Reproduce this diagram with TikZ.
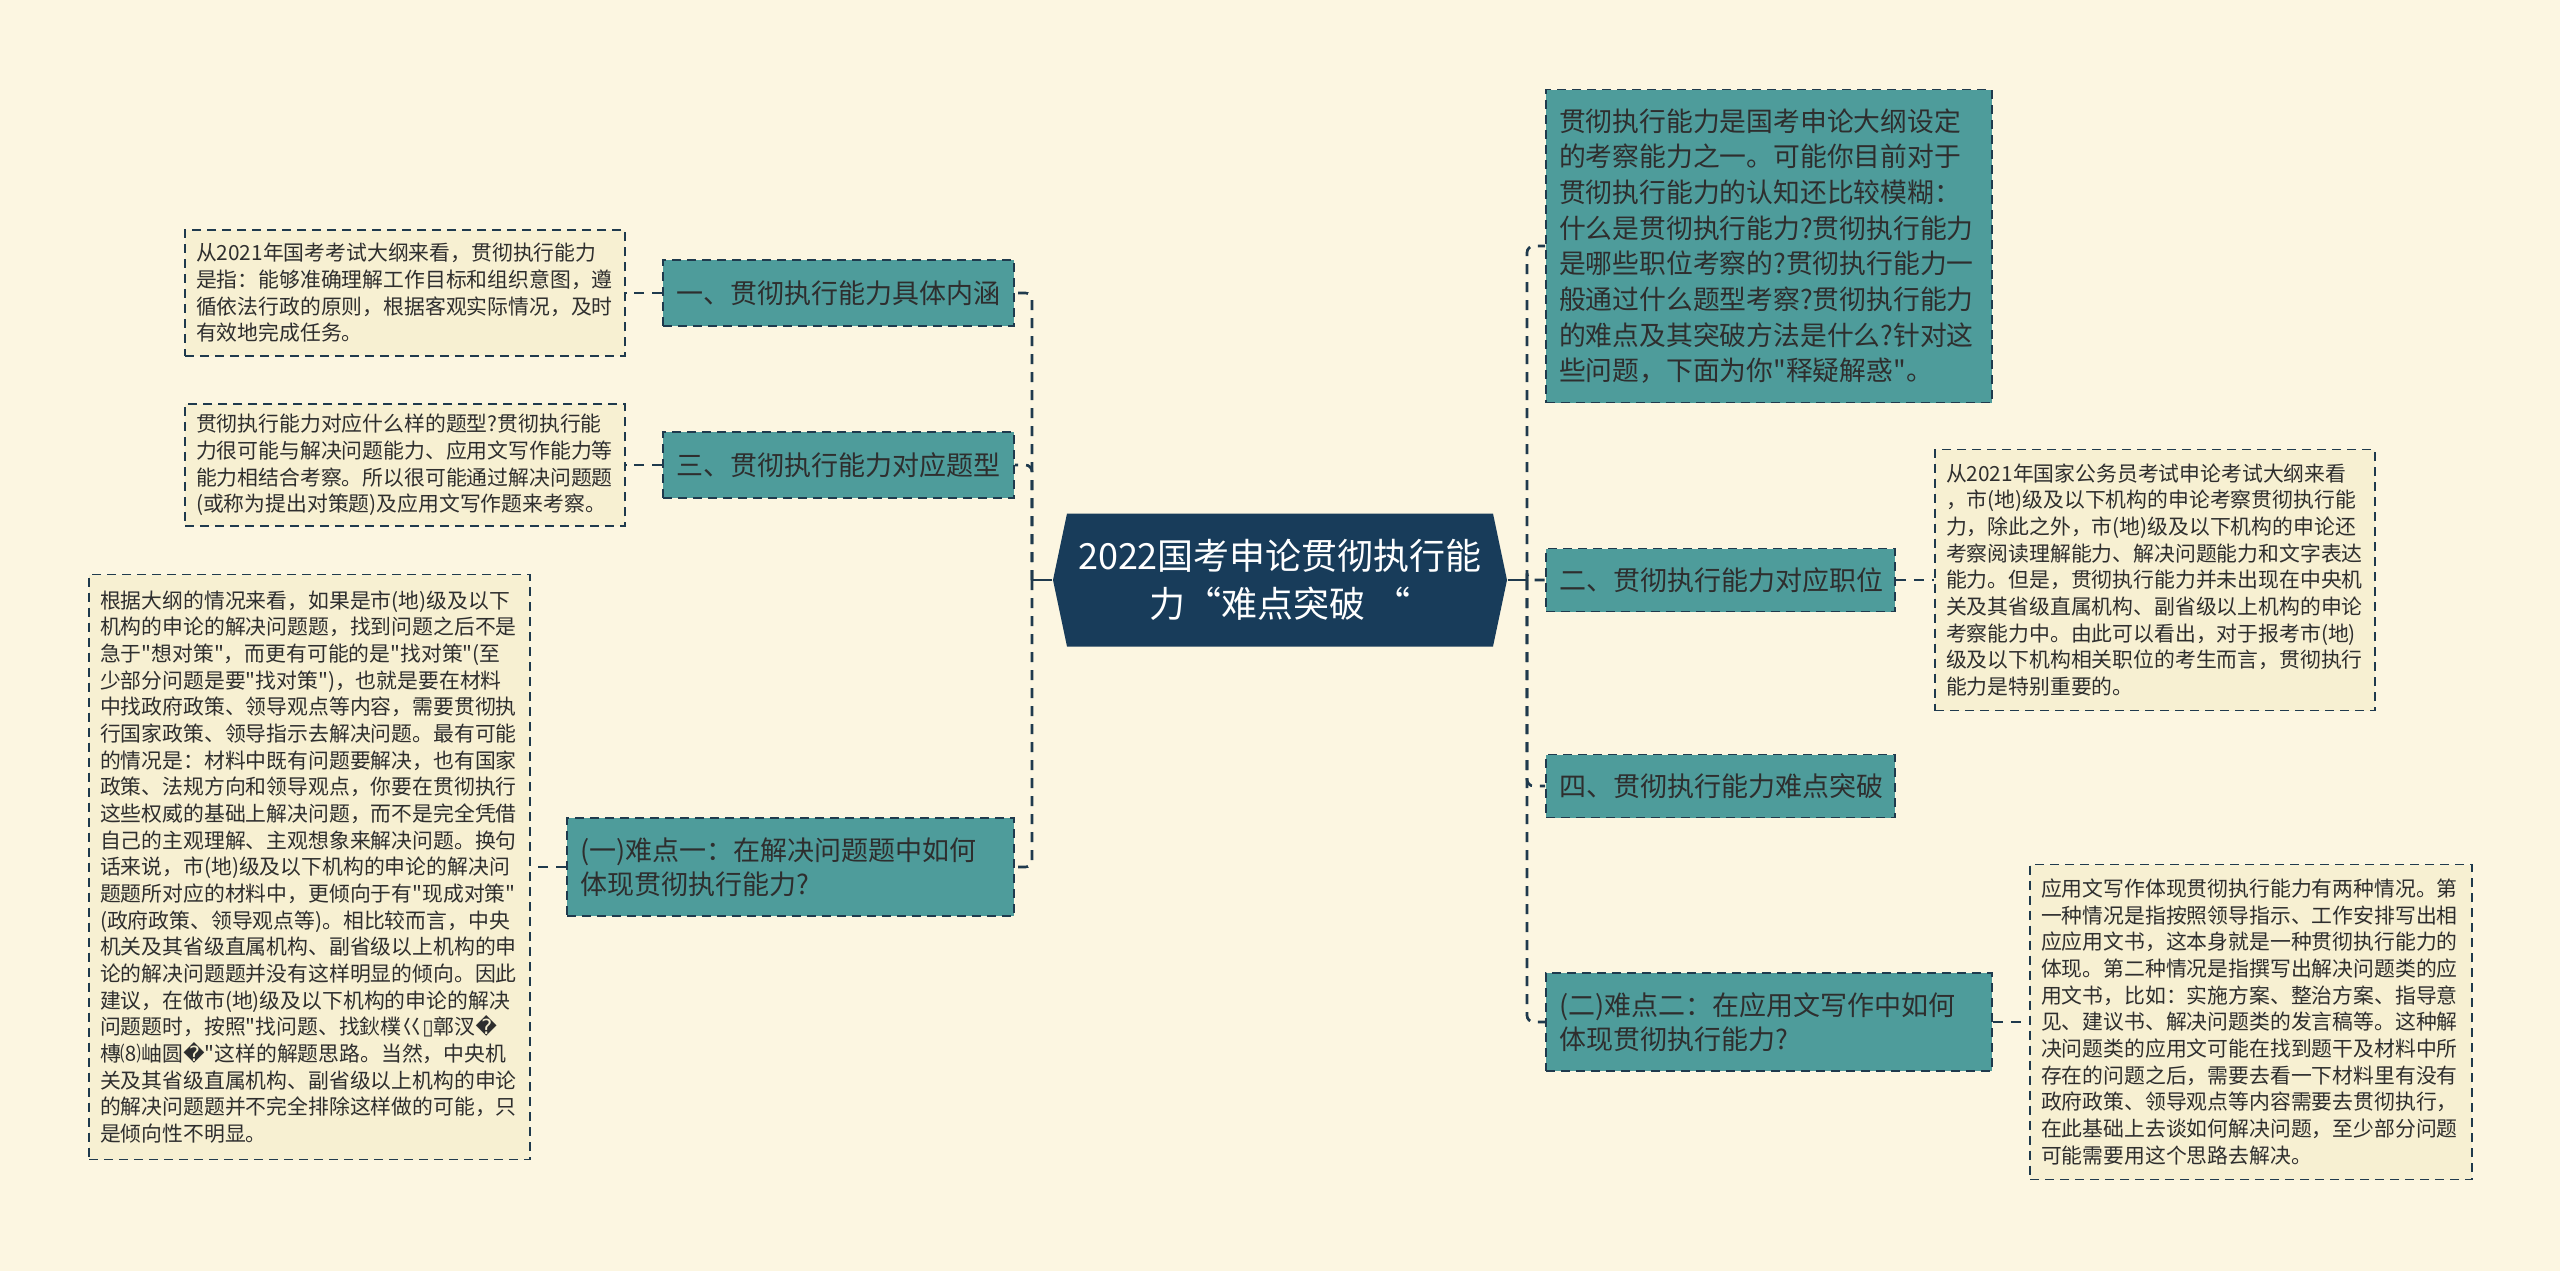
\documentclass[tikz,border=0pt]{standalone}
\usepackage{fontspec}
\setmainfont{Noto Sans CJK SC}[Ligatures=TeXOff]
\newfontfamily\symfont{DejaVu Sans}
\definecolor{bgcol}{HTML}{FCF6E1}
\definecolor{leafcol}{HTML}{F7F0D2}
\definecolor{tealcol}{HTML}{4E9C9B}
\definecolor{rootcol}{HTML}{183C5A}
\definecolor{linecol}{HTML}{1F3A4D}
\definecolor{inkcol}{HTML}{2E2E2E}
\tikzset{
	box/.style={draw=linecol, line width=0.5pt, dash pattern=on 2.7pt off 1.8pt, align=left},
	topic/.style={box, fill=tealcol, text=inkcol, font=\fontsize{8.1}{10.3}\selectfont, inner xsep=3.9pt, inner ysep=3pt},
	leaf/.style={box, fill=leafcol, text=inkcol, font=\fontsize{6.25}{8}\selectfont, inner xsep=3.3pt, inner ysep=3pt},
	link/.style={draw=linecol, line width=0.8pt, dash pattern=on 3pt off 2.4pt, rounded corners=2pt},
	stub/.style={draw=linecol, line width=0.8pt},
	root/.style={fill=bgcol, minimum width=136.2pt, minimum height=39.9pt, inner sep=0pt, text=white, align=center,
		font=\fontsize{10.8}{14.2}\selectfont,
		path picture={\fill[rootcol] (path picture bounding box.west)
			-- ([xshift=4.2pt]path picture bounding box.north west) -- ([xshift=-4.2pt]path picture bounding box.north east)
			-- (path picture bounding box.east)
			-- ([xshift=-4.2pt]path picture bounding box.south east) -- ([xshift=4.2pt]path picture bounding box.south west) -- cycle;}},
}
\begin{document}
\begin{tikzpicture}[x=0.3pt, y=-0.3pt]
	\fill[bgcol] (0,0) rectangle (2560,1271);
	\useasboundingbox (0,0) rectangle (2560,1271);
	\node[root] (root) at (1280,580) {2022国考申论贯彻执行能\\力“难点突破 “};
	% left side
	\node[topic, text width=97.5pt, minimum height=19.8pt] (ta) at (838.5,293) {一、贯彻执行能力具体内涵};
	\node[topic, text width=97.5pt, minimum height=19.8pt] (tb) at (838.5,465) {三、贯彻执行能力对应题型};
	\node[topic, text width=126.3pt, minimum height=29.4pt] (tc) at (790.5,867) {(一)难点一：在解决问题题中如何\\体现贯彻执行能力?};
	\node[leaf, text width=125.4pt, minimum height=37.8pt] (la) at (405,293) {从2021年国考考试大纲来看，贯彻执行能力\\是指：能够准确理解工作目标和组织意图，遵\\循依法行政的原则，根据客观实际情况，及时\\有效地完成任务。};
	\node[leaf, text width=125.4pt, minimum height=36.6pt] (lb) at (405,465) {贯彻执行能力对应什么样的题型?贯彻执行能\\力很可能与解决问题能力、应用文写作能力等\\能力相结合考察。所以很可能通过解决问题题\\(或称为提出对策题)及应用文写作题来考察。};
	\node[leaf, text width=125.7pt, minimum height=175.5pt] (lc) at (309.5,867) {根据大纲的情况来看，如果是市(地)级及以下\\机构的申论的解决问题题，找到问题之后不是\\急于"想对策"，而更有可能的是"找对策"(至\\少部分问题是要"找对策")，也就是要在材料\\中找政府政策、领导观点等内容，需要贯彻执\\行国家政策、领导指示去解决问题。最有可能\\的情况是：材料中既有问题要解决，也有国家\\政策、法规方向和领导观点，你要在贯彻执行\\这些权威的基础上解决问题，而不是完全凭借\\自己的主观理解、主观想象来解决问题。换句\\话来说，市(地)级及以下机构的申论的解决问\\题题所对应的材料中，更倾向于有"现成对策"\\(政府政策、领导观点等)。相比较而言，中央\\机关及其省级直属机构、副省级以上机构的申\\论的解决问题题并没有这样明显的倾向。因此\\建议，在做市(地)级及以下机构的申论的解决\\问题题时，按照"找问题、找鈥樸巜{\symfont ▯}鄣汊{\symfont �}\\槫⑻岫圆{\symfont �}"这样的解题思路。当然，中央机\\关及其省级直属机构、副省级以上机构的申论\\的解决问题题并不完全排除这样做的可能，只\\是倾向性不明显。};
	% right side
	\node[topic, text width=126pt, minimum height=93.9pt, font=\fontsize{8.04}{10.7}\selectfont] (ra) at (1769,246) {贯彻执行能力是国考申论大纲设定\\的考察能力之一。可能你目前对于\\贯彻执行能力的认知还比较模糊：\\什么是贯彻执行能力?贯彻执行能力\\是哪些职位考察的?贯彻执行能力一\\般通过什么题型考察?贯彻执行能力\\的难点及其突破方法是什么?针对这\\些问题，下面为你"释疑解惑"。};
	\node[topic, text width=96.9pt, minimum height=18.9pt] (rb) at (1720.5,580) {二、贯彻执行能力对应职位};
	\node[topic, text width=96.9pt, minimum height=18.9pt] (rc) at (1720.5,786) {四、贯彻执行能力难点突破};
	\node[topic, text width=126pt, minimum height=29.4pt] (rd) at (1769,1022) {(二)难点二：在应用文写作中如何\\体现贯彻执行能力?};
	\node[leaf, text width=125.4pt, minimum height=78.3pt] (lra) at (2155,580) {从2021年国家公务员考试申论考试大纲来看\\，市(地)级及以下机构的申论考察贯彻执行能\\力，除此之外，市(地)级及以下机构的申论还\\考察阅读理解能力、解决问题能力和文字表达\\能力。但是，贯彻执行能力并未出现在中央机\\关及其省级直属机构、副省级以上机构的申论\\考察能力中。由此可以看出，对于报考市(地)\\级及以下机构相关职位的考生而言，贯彻执行\\能力是特别重要的。};
	\node[leaf, text width=126pt, minimum height=94.5pt] (lrb) at (2251,1022) {应用文写作体现贯彻执行能力有两种情况。第\\一种情况是指按照领导指示、工作安排写出相\\应应用文书，这本身就是一种贯彻执行能力的\\体现。第二种情况是指撰写出解决问题类的应\\用文书，比如：实施方案、整治方案、指导意\\见、建议书、解决问题类的发言稿等。这种解\\决问题类的应用文可能在找到题干及材料中所\\存在的问题之后，需要去看一下材料里有没有\\政府政策、领导观点等内容需要去贯彻执行，\\在此基础上去谈如何解决问题，至少部分问题\\可能需要用这个思路去解决。};
	% connectors
	\coordinate (lj) at (1032,580);
	\coordinate (rj) at (1527,580);
	\draw[stub] (root.west) -- (lj);
	\draw[stub] (root.east) -- (rj);
	\foreach \n in {ta,tb,tc} \draw[link] (lj) |- (\n.east);
	\foreach \n in {ra,rb,rc,rd} \draw[link] (rj) |- (\n.west);
	\draw[link] (ta.west) -- (la.east);
	\draw[link] (tb.west) -- (lb.east);
	\draw[link] (tc.west) -- (lc.east);
	\draw[link] (rb.east) -- (lra.west);
	\draw[link] (rd.east) -- (lrb.west);
\end{tikzpicture}
\end{document}
